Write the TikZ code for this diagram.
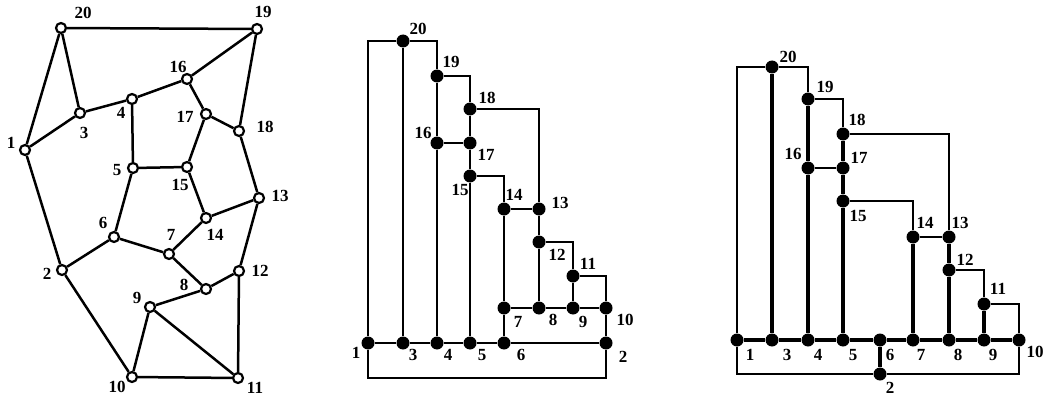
\documentclass[tikz,border=0pt]{standalone}
\usepackage{fontspec}
\setmainfont{Liberation Serif}
\tikzset{
  ring/.style={
    circle, draw=black, fill=white, line width=2.2pt,
    inner sep=0pt, minimum size=10pt
  },
  blob/.style={
    circle, fill=black, inner sep=0pt, minimum size=13pt
  },
  num/.style={
    font=\bfseries\fontsize{17}{17}\selectfont, inner sep=0pt
  },
  wire/.style={line width=2.5pt, line join=miter},
  fat wire/.style={line width=3.4pt, line join=miter}
}

\begin{document}
\begin{tikzpicture}[x=1pt, y=-1pt]
  \useasboundingbox (0,0) rectangle (1047,396);

  % planar graph
  \foreach \n/\x/\y in {20/61/28, 19/257/29, 16/187/79, 4/132/99, 3/80/113,
      1/25/150, 17/206/114, 18/239/131, 5/133/168, 15/187/167, 13/259/198,
      14/206/218, 6/114/237, 7/169/254, 2/62/270, 12/239/271, 8/206/289,
      9/150/307, 10/132/377, 11/238/378}
    \node[ring] (a\n) at (\x,\y) {};
  \foreach \a/\b in {20/19, 20/1, 20/3, 19/16, 19/18, 1/3, 3/4, 4/16, 4/5,
      16/17, 17/18, 17/15, 5/15, 18/13, 1/2, 5/6, 15/14, 14/13, 14/7, 6/2,
      6/7, 7/8, 13/12, 12/8, 8/9, 2/10, 9/10, 9/11, 12/11, 10/11}
    \draw[wire] (a\a) -- (a\b);
  \foreach \n/\x/\y in {20/83/13, 19/263/12, 16/178/67, 4/121/113, 3/84/133,
      1/11/143, 17/185/117, 18/265/127, 5/117/170, 15/180/185, 13/280/196,
      14/215/235, 6/103/223, 7/171/235, 2/47/274, 12/260/271, 8/184/285,
      9/137/298, 10/117/387, 11/255/388}
    \node[num] (ta\n) at (\x,\y) {\n};

  % first embedding
  \foreach \n/\x/\y in {20/403/41, 19/437/76, 18/470/109, 16/437/143,
      17/470/143, 15/470/176, 14/504/209, 13/539/209, 12/539/242, 11/573/276,
      7/504/308, 8/539/308, 9/573/308, 10/606/308, 1/368/343, 3/403/343,
      4/437/343, 5/470/343, 6/504/343, 2/606/343}
    \node[blob] (m\n) at (\x,\y) {};
  \coordinate (mlow) at (487,378);
  \foreach \a/\b in {20/3, 19/16, 16/17, 16/4, 18/17, 17/15, 15/5, 14/13,
      14/7, 13/12, 12/8, 11/9, 7/8, 8/9, 9/10, 7/6, 10/2, 1/3, 3/4, 4/5, 5/6,
      6/2}
    \draw[wire] (m\a) -- (m\b);
  \foreach \a/\b in {20/1, 20/19, 19/18, 18/13, 15/14, 12/11, 11/10}
    \draw[wire] (m\a) -| (m\b);
  \draw[wire] (m1) |- (mlow) -| (m2);
  \foreach \n/\x/\y in {20/418/29, 19/451/62, 18/487/98, 16/423/133,
      17/486/155, 15/460/190, 14/514/195, 13/560/203, 12/557/255, 11/588/264,
      7/518/322, 8/553/320, 9/583/322, 10/625/320, 1/356/353, 3/413/355,
      4/448/355, 5/482/355, 6/521/355, 2/623/357}
    \node[num] (tm\n) at (\x,\y) {\n};

  % second embedding
  \foreach \n/\x/\y in {20/772/67, 19/808/99, 18/843/134, 16/808/168,
      17/843/168, 15/843/201, 14/913/237, 13/949/237, 12/949/270, 11/984/304,
      1/737/340, 3/772/340, 4/808/340, 5/843/340, 6/880/340, 7/913/340,
      8/949/340, 9/984/340, 10/1019/340, 2/880/374}
    \node[blob] (r\n) at (\x,\y) {};
  \foreach \a/\b in {20/3, 19/16, 16/4, 18/17, 17/15, 15/5, 14/7, 13/12,
      12/8, 11/9, 1/3, 3/4, 4/5, 5/6, 6/7, 7/8, 8/9, 9/10, 6/2}
    \draw[fat wire] (r\a) -- (r\b);
  \foreach \a/\b in {16/17, 14/13}
    \draw[wire] (r\a) -- (r\b);
  \foreach \a/\b in {20/1, 20/19, 19/18, 18/13, 15/14, 12/11, 11/10}
    \draw[wire] (r\a) -| (r\b);
  \draw[wire] (r1) |- (r2) -| (r10);
  \foreach \n/\x/\y in {20/788/57, 19/825/87, 18/857/120, 16/793/154,
      17/859/158, 15/858/216, 14/925/223, 13/960/223, 12/965/260, 11/998/289,
      1/750/355, 3/787/355, 4/818/355, 5/853/355, 6/890/355, 7/921/355,
      8/958/355, 9/993/355, 10/1035/352, 2/890/388}
    \node[num] (tr\n) at (\x,\y) {\n};

\end{tikzpicture}
\end{document}
